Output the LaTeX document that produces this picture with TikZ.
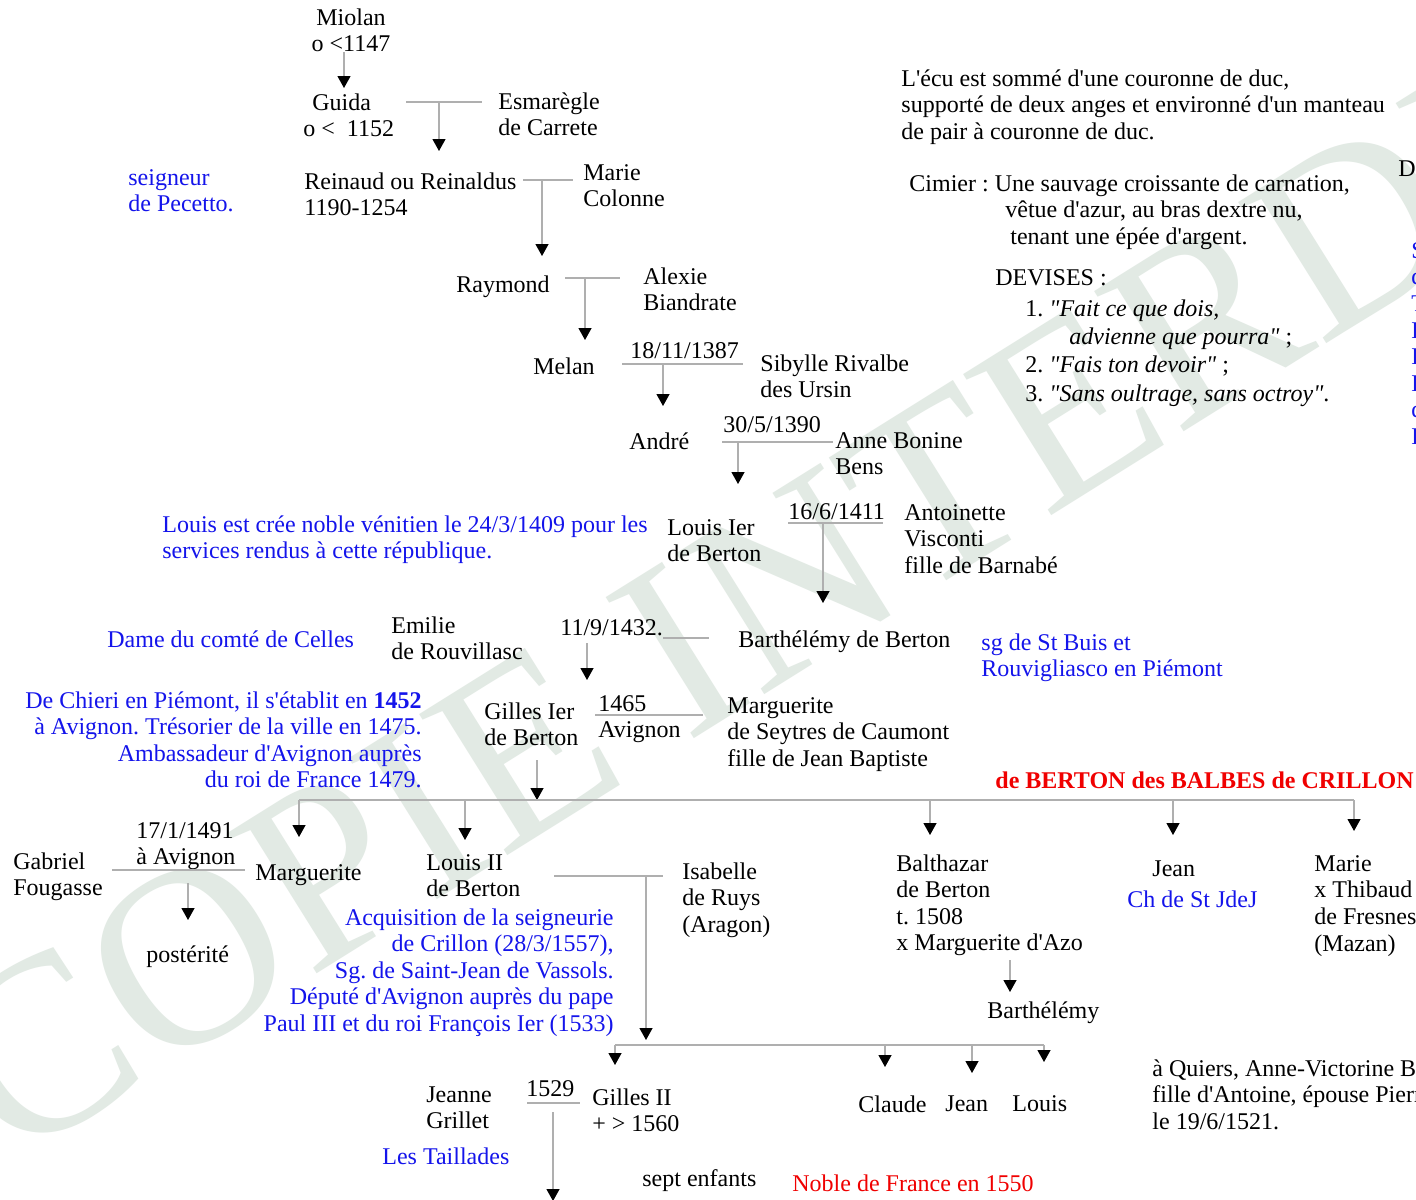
\documentclass[tikz,border=0pt]{standalone}
\usepackage{fontspec}
\setmainfont{Liberation Serif}[Ligatures=TeXOff]
\usetikzlibrary{arrows.meta}
\frenchspacing
\definecolor{notecol}{RGB}{20,20,235}
\definecolor{titlecol}{RGB}{240,0,0}
\definecolor{linkcol}{RGB}{175,175,175}
\definecolor{markcol}{RGB}{226,234,228}
\tikzstyle{person}=[anchor=north west, inner sep=0pt, align=left, font=\fontsize{12}{13.3}\selectfont]
\tikzstyle{note}=[person, text=notecol]
\tikzstyle{title}=[person, text=titlecol, font=\fontsize{12}{13.3}\selectfont\bfseries]
\tikzstyle{wed}=[draw=linkcol, line width=0.6pt]
\tikzstyle{desc}=[wed, -{Triangle[color=black,length=6pt,width=6.5pt]}]

\begin{document}
\begin{tikzpicture}[x=0.5pt,y=-0.5pt]
\fill[white] (0,0) rectangle (1416,1199);
\useasboundingbox (0,0) rectangle (1416,1199);
\clip (0,0) rectangle (1416,1199);

% watermark
\node[rotate=32, anchor=base west, inner sep=0pt, text=markcol,
      font=\fontsize{127}{128}\selectfont] (mark) at (10,1166) {COPIE INTERDITE};

% ancestors
\node[person, anchor=north, align=center] (miolan) at (351,8) {Miolan\\o <1147};
\node[person] (guida) at (303,93) {\hspace*{4.5pt}Guida\\o <\enspace 1152};
\node[person] (esmaregle) at (498,92) {Esmarègle\\de Carrete};
\node[note] (pecetto) at (128,169) {seigneur\\de Pecetto.};
\node[person] (reinaud) at (304,172) {Reinaud ou Reinaldus\\1190-1254};
\node[person] (mariecol) at (583,164) {Marie\\Colonne};
\node[person] (raymond) at (456,275) {Raymond};
\node[person] (alexie) at (643,267) {Alexie\\Biandrate};
\node[person] (melan) at (533,357) {Melan};
\node[person] (d1387) at (630,342) {18/11/1387};
\node[person] (sibylle) at (760,354) {Sibylle Rivalbe\\des Ursin};
\node[person] (andre) at (629,432) {André};
\node[person] (d1390) at (723,416) {30/5/1390};
\node[person] (anne) at (835,432) {Anne Bonine\\Bens};
\node[note] (venise) at (162,515) {Louis est crée noble vénitien le 24/3/1409 pour les\\services rendus à cette république.};
\node[person] (louis1) at (667,519) {Louis Ier\\de Berton};
\node[person] (d1411) at (788,503) {16/6/1411};
\node[person] (antoinette) at (904,504) {Antoinette\\Visconti\\fille de Barnabé};
\node[note] (celles) at (107,630) {Dame du comté de Celles};
\node[person] (emilie) at (391,616) {Emilie\\de Rouvillasc};
\node[person] (d1432) at (560,619) {11/9/1432.};
\node[person] (barth) at (738,630) {Barthélémy de Berton};
\node[note] (buis) at (981,633) {sg de St Buis et\\Rouvigliasco en Piémont};
\node[note, anchor=north east, align=right] (chieri) at (422,691) {De Chieri en Piémont, il s'établit en \textbf{1452}\\à Avignon. Trésorier de la ville en 1475.\\Ambassadeur d'Avignon auprès\\du roi de France 1479.};
\node[person] (gilles1) at (484,702) {Gilles Ier\\de Berton};
\node[person] (d1465) at (598,695) {1465\\Avignon};
\node[person] (seytres) at (727,697) {Marguerite\\de Seytres de Caumont\\fille de Jean Baptiste};
\node[title, anchor=north east] (crillon) at (1414,771) {de BERTON des BALBES de CRILLON};

% children of Gilles Ier
\node[person] (d1491) at (136,822) {17/1/1491\\à Avignon};
\node[person] (gabriel) at (13,852) {Gabriel\\Fougasse};
\node[person] (posterite) at (146,945) {postérité};
\node[person] (marguerite) at (255,864) {Marguerite};
\node[person] (louis2) at (426,854) {Louis II\\de Berton};
\node[note, anchor=north east, align=right] (seigneurie) at (614,908) {Acquisition de la seigneurie\\de Crillon (28/3/1557),\\Sg. de Saint-Jean de Vassols.\\Député d'Avignon auprès du pape\\Paul III et du roi François Ier (1533)};
\node[person] (isabelle) at (682,862) {Isabelle\\de Ruys\\(Aragon)};
\node[person] (balthazar) at (896,854) {Balthazar\\de Berton\\t. 1508\\x Marguerite d'Azo};
\node[person] (barth2) at (987,1001) {Barthélémy};
\node[person] (jean) at (1152,860) {Jean};
\node[note] (jdej) at (1127,890) {Ch de St JdeJ};
\node[person] (marie) at (1314,855) {Marie\\x Thibaud\\de Fresnes\\(Mazan)};

% grandchildren
\node[person] (claude) at (858,1095) {Claude};
\node[person] (jean2) at (945,1095) {Jean};
\node[person] (louis3) at (1012,1095) {Louis};
\node[person] (gilles2) at (592,1088) {Gilles II\\+ > 1560};
\node[person] (d1529) at (526,1080) {1529};
\node[person] (jeanne) at (426,1086) {Jeanne\\Grillet};
\node[note] (taillades) at (382,1147) {Les Taillades};
\node[person] (sept) at (642,1169) {sept enfants};
\node[note, text=titlecol] (noble) at (792,1174) {Noble de France en 1550};
\node[person] (quiers) at (1152,1059) {à Quiers, Anne-Victorine Be\\fille d'Antoine, épouse Pierr\\le 19/6/1521.};

% arms
\node[person] (ecu) at (901,69) {L'écu est sommé d'une couronne de duc,\\supporté de deux anges et environné d'un manteau\\de pair à couronne de duc.};
\node[person] (cimier) at (909,174) {Cimier : Une sauvage croissante de carnation,\\\hspace*{48pt}vêtue d'azur, au bras dextre nu,\\\hspace*{50.5pt}tenant une épée d'argent.};
\node[person] (devises) at (995,269) {DEVISES :};
\node[person, font=\fontsize{12}{14.2}\selectfont] (devlist) at (1025,299) {1. \textit{"Fait ce que dois,}\\\hspace*{22pt}\textit{advienne que pourra"} ;\\2. \textit{"Fais ton devoir"} ;\\3. \textit{"Sans oultrage, sans octroy"}.};
\node[person] (dcut) at (1398,160) {D};
\node[note] (cutnote) at (1411,242) {S\\d\\T\\D\\D\\D\\d\\D};

% connectors
\coordinate (tg) at (344,88);
\draw[desc] (miolan.south -| tg) -- (tg);

\coordinate (wg1) at (406,102); \coordinate (wg2) at (482,102); \coordinate (tr) at (439,151);
\draw[wed] (wg1) -- (wg2);
\draw[desc] (tr |- wg1) -- (tr);

\coordinate (wr1) at (523,180); \coordinate (wr2) at (573,180); \coordinate (tra) at (542,256);
\draw[wed] (wr1) -- (wr2);
\draw[desc] (tra |- wr1) -- (tra);

\coordinate (wa1) at (565,278); \coordinate (wa2) at (620,278); \coordinate (tme) at (585,340);
\draw[wed] (wa1) -- (wa2);
\draw[desc] (tme |- wa1) -- (tme);

\coordinate (ws1) at (622,364); \coordinate (ws2) at (743,364); \coordinate (tan) at (663,406);
\draw[wed] (ws1) -- (ws2);
\draw[desc] (tan |- ws1) -- (tan);

\coordinate (wb1) at (722,442); \coordinate (wb2) at (833,442); \coordinate (tlo) at (738,484);
\draw[wed] (wb1) -- (wb2);
\draw[desc] (tlo |- wb1) -- (tlo);

\coordinate (wv1) at (788,523); \coordinate (wv2) at (883,523); \coordinate (tba) at (823,603);
\draw[wed] (wv1) -- (wv2);
\draw[desc] (tba |- wv1) -- (tba);

\coordinate (we1) at (663,638); \coordinate (we2) at (709,638);
\coordinate (ge) at (587,643); \coordinate (tgi) at (587,680);
\draw[wed] (we1) -- (we2);
\draw[desc] (ge) -- (tgi);

\coordinate (wm1) at (595,715); \coordinate (wm2) at (703,715);
\coordinate (gd) at (537,760); \coordinate (gt) at (537,800);
\draw[wed] (wm1) -- (wm2);
\draw[desc] (gd) -- (gt);

% siblings
\coordinate (sb1) at (299,800); \coordinate (sb2) at (1354,800);
\coordinate (km) at (299,837); \coordinate (kl) at (465,840); \coordinate (kb) at (930,835);
\coordinate (kj) at (1173,835); \coordinate (kx) at (1354,831);
\draw[wed] (sb1) -- (sb2);
\foreach \k in {km,kl,kb,kj,kx}
  \draw[desc] (\k |- sb1) -- (\k);

\coordinate (wf1) at (112,870); \coordinate (wf2) at (245,870);
\coordinate (fd) at (188,883); \coordinate (ft) at (188,920);
\draw[wed] (wf1) -- (wf2);
\draw[desc] (fd) -- (ft);

\coordinate (wi1) at (554,876); \coordinate (wi2) at (663,876); \coordinate (ti) at (646,1040);
\draw[wed] (wi1) -- (wi2);
\draw[desc] (ti |- wi1) -- (ti);

\coordinate (bd) at (1010,960); \coordinate (bt) at (1010,992);
\draw[desc] (bd) -- (bt);

\coordinate (sc1) at (615,1045); \coordinate (sc2) at (1044,1045);
\coordinate (kg) at (615,1065); \coordinate (kc) at (885,1067);
\coordinate (kn) at (972,1073); \coordinate (ko) at (1044,1062);
\draw[wed] (sc1) -- (sc2);
\foreach \k in {kg,kc,kn,ko}
  \draw[desc] (\k |- sc1) -- (\k);

\coordinate (wj1) at (527,1103); \coordinate (wj2) at (580,1103);
\coordinate (jd) at (553,1112); \coordinate (jt) at (553,1201);
\draw[wed] (wj1) -- (wj2);
\draw[desc] (jd) -- (jt);
\end{tikzpicture}
\end{document}
